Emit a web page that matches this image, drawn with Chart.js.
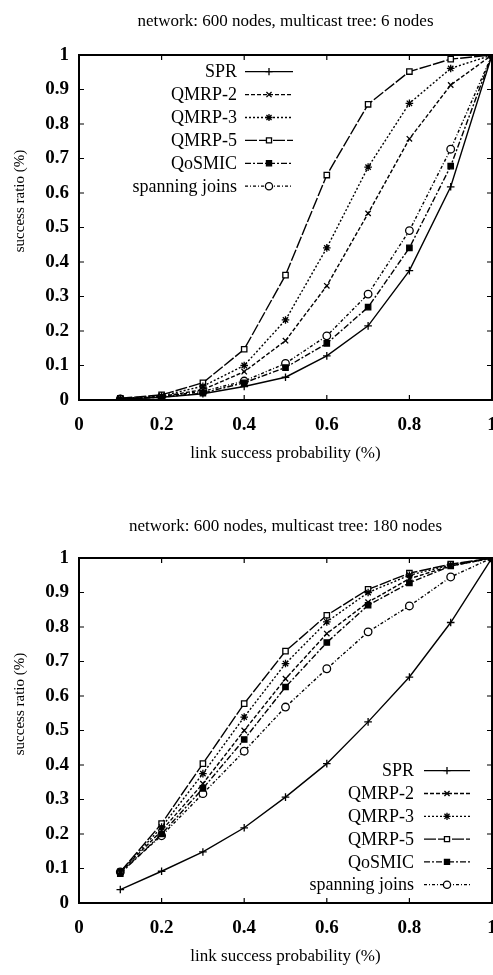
<!DOCTYPE html>
<html><head><meta charset="utf-8">
<script src="https://cdn.jsdelivr.net/npm/chart.js@4.4.1/dist/chart.umd.min.js"></script>
<style>
html,body{margin:0;padding:0;background:#fff;}
#wrap{position:relative;width:493px;height:975px;background:#fff;}
.box{position:absolute;left:0;width:493px;}
canvas{display:block;}
</style></head><body>
<div id="wrap">
<div class="box" style="top:0;height:487px"><canvas id="c1" width="493" height="487"></canvas></div>
<div class="box" style="top:487px;height:488px"><canvas id="c2" width="493" height="488"></canvas></div>
</div>
<script>
// ---------- data ----------
const xValues = [0.1,0.2,0.3,0.4,0.5,0.6,0.7,0.8,0.9,1.0];
const seriesNames = ['SPR','QMRP-2','QMRP-3','QMRP-5','QoSMIC','spanning joins'];
const xTickValues = [0,0.2,0.4,0.6,0.8,1];
const yTickValues = [0,0.1,0.2,0.3,0.4,0.5,0.6,0.7,0.8,0.9,1];
const title1 = 'network: 600 nodes, multicast tree: 6 nodes';
const title2 = 'network: 600 nodes, multicast tree: 180 nodes';
const xAxisTitle = 'link success probability (%)';
const yAxisTitle = 'success ratio (%)';

// chart 1: multicast tree 6 nodes
const spr6    = [0.002,0.008,0.018,0.039,0.066,0.128,0.215,0.375,0.618,1.0];
const qmrp2_6 = [0.003,0.010,0.030,0.082,0.172,0.331,0.541,0.757,0.913,1.0];
const qmrp3_6 = [0.004,0.012,0.040,0.100,0.232,0.441,0.675,0.860,0.961,1.0];
const qmrp5_6 = [0.005,0.015,0.050,0.147,0.362,0.652,0.857,0.952,0.988,1.0];
const qosmic6 = [0.003,0.008,0.020,0.050,0.094,0.164,0.269,0.441,0.678,1.0];
const span6   = [0.003,0.010,0.025,0.055,0.106,0.186,0.307,0.491,0.727,1.0];

// chart 2: multicast tree 180 nodes
const spr180    = [0.039,0.092,0.148,0.218,0.307,0.404,0.525,0.655,0.813,1.0];
const qmrp2_180 = [0.090,0.210,0.346,0.500,0.650,0.781,0.872,0.940,0.977,1.0];
const qmrp3_180 = [0.090,0.220,0.375,0.539,0.694,0.815,0.900,0.950,0.980,1.0];
const qmrp5_180 = [0.090,0.230,0.404,0.578,0.730,0.834,0.909,0.956,0.982,1.0];
const qosmic180 = [0.085,0.200,0.332,0.474,0.626,0.755,0.863,0.928,0.977,1.0];
const span180   = [0.090,0.195,0.317,0.440,0.568,0.679,0.786,0.861,0.945,1.0];

// ---------- styles ----------
const seriesStyles = [
  {dash:[], point:'cross', fill:'#000'},
  {dash:[4,2], point:'crossRot', fill:'#000'},
  {dash:[2,2], point:'star', fill:'#000'},
  {dash:[12,2], point:'rect', fill:'#fff'},
  {dash:[6,2,2,2], point:'rect', fill:'#000'},
  {dash:[3,2,1,2], point:'circle', fill:'#fff'}
];
const FONT = "'Liberation Serif','Times New Roman',serif";

function makeDatasets(list){
  return list.map((vals,i)=>({
    label: seriesNames[i],
    data: xValues.map((x,j)=>({x:x,y:vals[j]})),
    borderColor:'#000',
    backgroundColor: seriesStyles[i].fill,
    borderWidth:1.4,
    borderDash: seriesStyles[i].dash,
    pointStyle: seriesStyles[i].point,
    pointRadius: 3.8,
    pointBorderWidth: 1.3,
    pointBorderColor:'#000',
    pointBackgroundColor: seriesStyles[i].fill,
    tension:0,
    fill:false
  }));
}

function drawMarker(ctx, style, fill, r, x, y){
  if (Chart.helpers && Chart.helpers.drawPoint){
    ctx.fillStyle = fill; ctx.strokeStyle='#000'; ctx.lineWidth=1.3; ctx.setLineDash([]);
    Chart.helpers.drawPoint(ctx, {pointStyle:style, radius:r, borderWidth:1.3, rotation:0}, x, y);
  }
}

const framePlugin = {
  id:'frame',
  afterDatasetsDraw(chart, args, opts){
    const {ctx, chartArea:a} = chart;
    const x = chart.scales.x, y = chart.scales.y;
    ctx.save();
    ctx.strokeStyle='#000'; ctx.lineWidth=1.2; ctx.setLineDash([]);
    const tl = 5;
    ctx.beginPath();
    xTickValues.forEach(v=>{
      const px = x.getPixelForValue(v);
      ctx.moveTo(px,a.bottom); ctx.lineTo(px,a.bottom-tl);
      ctx.moveTo(px,a.top); ctx.lineTo(px,a.top+tl);
    });
    yTickValues.forEach(v=>{
      const py = y.getPixelForValue(v);
      ctx.moveTo(a.left,py); ctx.lineTo(a.left+tl,py);
      ctx.moveTo(a.right,py); ctx.lineTo(a.right-tl,py);
    });
    ctx.stroke();
    ctx.lineWidth=2;
    ctx.strokeRect(a.left,a.top,a.right-a.left,a.bottom-a.top);
    // y axis title
    ctx.fillStyle='#000';
    ctx.font = "15px " + FONT;
    ctx.translate(opts.yTitleX, a.top + opts.yTitleDY);
    ctx.rotate(-Math.PI/2);
    ctx.textAlign='center'; ctx.textBaseline='middle';
    ctx.fillText(yAxisTitle,0,0);
    ctx.restore();

    // legend
    ctx.save();
    chart.data.datasets.forEach((ds,i)=>{
      const cy = a.top + opts.legTop + i*opts.legStep;
      ctx.fillStyle='#000';
      ctx.font = "18px " + FONT;
      ctx.textAlign='right'; ctx.textBaseline='middle';
      ctx.fillText(ds.label, a.left + opts.legTextRight, cy+1);
      ctx.strokeStyle='#000'; ctx.lineWidth=1.3;
      ctx.setLineDash(ds.borderDash);
      ctx.beginPath();
      ctx.moveTo(a.left + opts.legX1, cy); ctx.lineTo(a.left + opts.legX2, cy);
      ctx.stroke();
      ctx.setLineDash([]);
      drawMarker(ctx, ds.pointStyle, ds.pointBackgroundColor, 3.6, a.left + (opts.legX1+opts.legX2)/2, cy);
    });
    ctx.restore();
  }
};

function fmt(v){ return String(Number(v.toFixed(2))); }

function makeChart(id, title, list, cfg){
  return new Chart(document.getElementById(id), {
    type:'line',
    data:{ datasets: makeDatasets(list) },
    plugins:[framePlugin],
    options:{
      responsive:false, animation:false, devicePixelRatio:1,
      layout:{ autoPadding:false, padding:{left:0,right:1,top:0,bottom:cfg.padBottom} },
      plugins:{
        legend:{display:false},
        tooltip:{enabled:false},
        title:{ display:true, text:title, fullSize:false, color:'#000',
          font:{family:FONT, size:17, weight:'normal', lineHeight:1.2},
          padding:{top:cfg.titleTop, bottom:cfg.titleBottom} },
        frame: cfg.frame
      },
      scales:{
        x:{ type:'linear', min:0, max:1,
          afterBuildTicks(s){ s.ticks = xTickValues.map(v=>({value:v})); },
          afterFit(s){ s.height = cfg.xHeight; s.paddingLeft=0; s.paddingRight=0; },
          grid:{display:false, drawTicks:false}, border:{display:false},
          ticks:{ padding:14, color:'#000', maxRotation:0, autoSkip:false,
            font:{family:FONT, size:19, weight:'bold'}, callback:(v)=>fmt(v) },
          title:{ display:true, text:xAxisTitle, color:'#000',
            font:{family:FONT, size:17, weight:'normal', lineHeight:1.2},
            padding:{top:0, bottom:6} }
        },
        y:{ type:'linear', min:0, max:1,
          afterBuildTicks(s){ s.ticks = yTickValues.map(v=>({value:v})); },
          afterFit(s){ s.width = 79; s.paddingTop=0; s.paddingBottom=0; },
          grid:{display:false, drawTicks:false}, border:{display:false},
          ticks:{ padding:10, color:'#000', autoSkip:false,
            font:{family:FONT, size:19, weight:'bold'}, callback:(v)=>fmt(v) }
        }
      }
    }
  });
}

makeChart('c1', title1, [spr6,qmrp2_6,qmrp3_6,qmrp5_6,qosmic6,span6], {
  padBottom:17, titleTop:11, titleBottom:23.6, xHeight:70,
  frame:{ yTitleX:20, yTitleDY:146, legTop:16.7, legStep:22.9, legTextRight:158, legX1:166, legX2:214 }
});
makeChart('c2', title2, [spr180,qmrp2_180,qmrp3_180,qmrp5_180,qosmic180,span180], {
  padBottom:2, titleTop:29, titleBottom:21.6, xHeight:70,
  frame:{ yTitleX:20, yTitleDY:146, legTop:212.7, legStep:22.8, legTextRight:335, legX1:345, legX2:391 }
});
</script>
</body></html>
